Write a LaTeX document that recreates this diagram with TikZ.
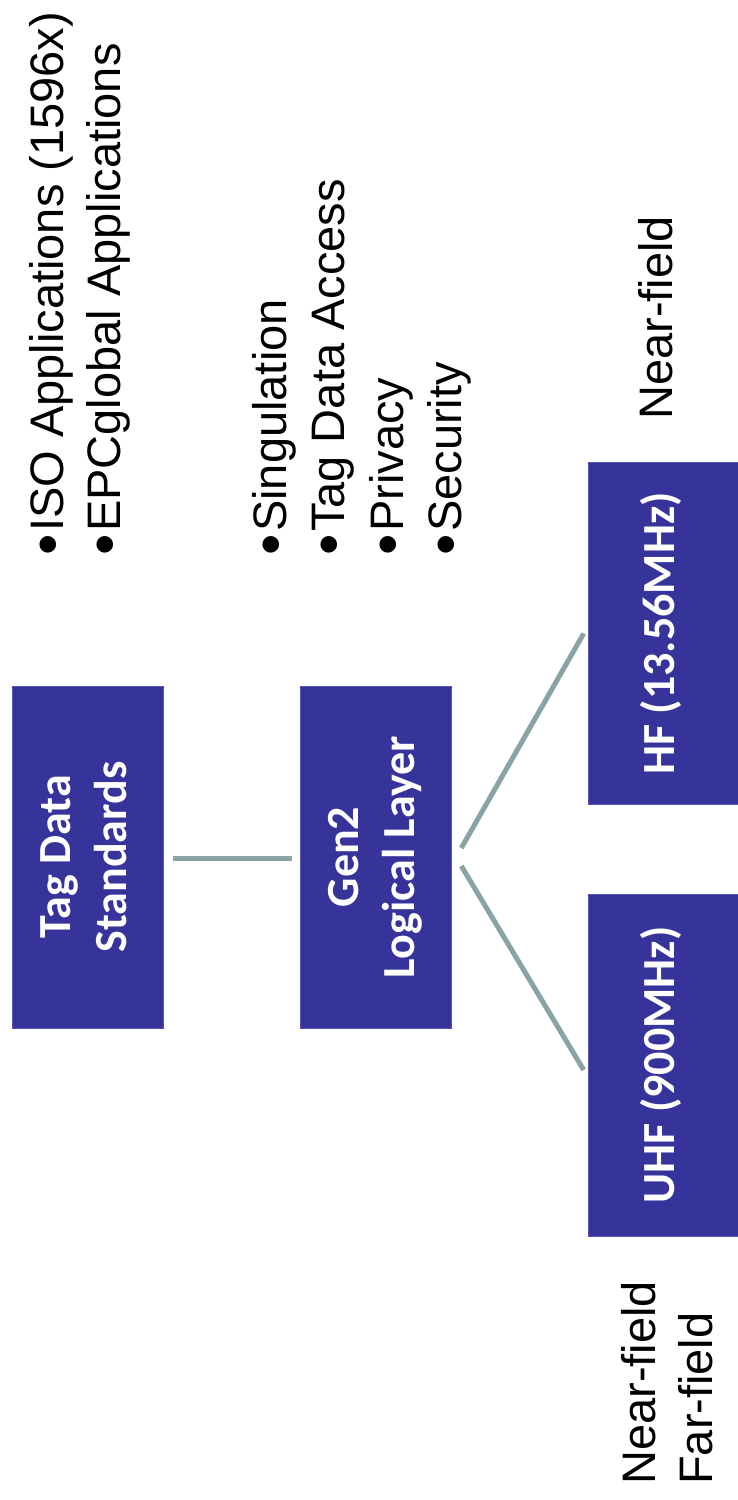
\documentclass[tikz,border=0pt]{standalone}
\usepackage{fontspec}
\usepackage{graphicx}
\setmainfont{Liberation Sans}
\newfontfamily\boxfont{Carlito}
\definecolor{boxblue}{HTML}{36349A}
\definecolor{boxedge}{HTML}{5856B0}
\definecolor{linkgray}{HTML}{8AA4A6}
\tikzset{
  blockbox/.style={draw=boxedge, line width=0.6pt, fill=boxblue, minimum width=151pt, minimum height=342pt, inner sep=0pt},
  bodytext/.style={rotate=90, anchor=base west, inner sep=0pt, font=\fontsize{47}{56}\selectfont},
  linkline/.style={draw=linkgray, line width=5pt}
}
\newcommand{\boxlabel}[1]{\rotatebox{90}{\color{white}\boxfont\bfseries\fontsize{46}{56}\selectfont\begin{tabular}{@{}c@{}}#1\end{tabular}}}
\newcommand{\bul}{\makebox[24pt][l]{\raisebox{-5pt}{\scalebox{1.3}{•}}}}
\begin{document}
\begin{tikzpicture}[x=1pt,y=-1pt]
\useasboundingbox (0,0) rectangle (737,1500);
\fill[white] (0,0) rectangle (737,1500);

\node[blockbox] (tds) at (87.5,857) {\boxlabel{Tag Data\\Standards}};
\node[blockbox] (gen) at (375.5,857) {\boxlabel{Gen2\\Logical Layer}};
\node[blockbox] (hf) at (663.5,633.5) {\boxlabel{HF (13.56MHz)}};
\node[blockbox] (uhf) at (663.5,1065) {\boxlabel{UHF (900MHz)}};

\draw[linkline] ([xshift=10pt,yshift=-1pt]tds.east) -- ([xshift=-8pt,yshift=-1pt]gen.west);
\draw[linkline] ([xshift=10pt,yshift=9pt]gen.east) -- ([xshift=-4pt]hf.west);
\draw[linkline] ([xshift=10pt,yshift=-9pt]gen.east) -- ([xshift=-4pt,yshift=-5pt]uhf.west);

\node[bodytext] (iso) at (63,556) {\bul ISO Applications (1596x)};
\node[bodytext] (epc) at (120,556) {\bul EPCglobal Applications};

\node[bodytext] (sing) at (286,556) {\bul Singulation};
\node[bodytext] (tda) at (344,556) {\bul Tag Data Access};
\node[bodytext] (priv) at (403,556) {\bul Privacy};
\node[bodytext] (sec) at (461,556) {\bul Security};

\node[bodytext] (hfnear) at (672,420) {Near-field};
\node[bodytext] (uhfnear) at (655,1485) {Near-field};
\node[bodytext] (uhffar) at (712,1485) {Far-field};
\end{tikzpicture}
\end{document}
